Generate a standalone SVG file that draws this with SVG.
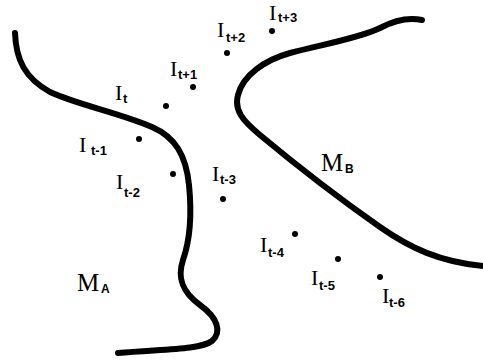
<svg xmlns="http://www.w3.org/2000/svg" width="483" height="362" viewBox="0 0 483 362">
<style>
.c{fill:none;stroke:#000;stroke-width:6;stroke-linecap:round;stroke-linejoin:round}
.d{fill:#000}
.i{font-family:"Liberation Serif","Times New Roman",serif;font-size:22px;fill:#000}
.m{font-family:"Liberation Serif","Times New Roman",serif;font-size:25px;fill:#000}
.s{font-family:"Liberation Sans",Arial,sans-serif;font-weight:bold;font-size:13px;fill:#000}
.sm{font-family:"Liberation Sans",Arial,sans-serif;font-weight:bold;font-size:12px;fill:#000}
</style>
<rect width="483" height="362" fill="#fff"/>
<g id="curves">
<path id="curveA" class="c" d="M15,33 C16,60 25,78 50,92 C75,104 120,113 152,127 C175,137 186,155 189,185 C192,215 190,240 183,260 C177,278 182,292 200,305 C218,318 222,332 212,341 C200,350 160,349 118,353"/>
<path id="curveB" class="c" d="M422,20 C408,17 395,20 380,28 C360,38 320,45 290,53 C265,60 243,75 238,95 C234,110 242,120 260,135 C290,160 330,192 380,227 C410,248 440,262 483,266"/>
</g>
<g id="points">
<circle class="d" cx="166" cy="106" r="3"/>
<circle class="d" cx="193" cy="87" r="3"/>
<circle class="d" cx="227" cy="53" r="3"/>
<circle class="d" cx="272" cy="31" r="3"/>
<circle class="d" cx="139" cy="139" r="3"/>
<circle class="d" cx="173" cy="174" r="3"/>
<circle class="d" cx="223" cy="199" r="3"/>
<circle class="d" cx="295" cy="234" r="3"/>
<circle class="d" cx="338" cy="259" r="3"/>
<circle class="d" cx="380" cy="277" r="3"/>
</g>
<g id="labels">
<text><tspan class="i" x="115" y="100">I</tspan><tspan class="s" x="123" y="103">t</tspan></text>
<text><tspan class="i" x="170" y="76">I</tspan><tspan class="s" x="178" y="79">t+1</tspan></text>
<text><tspan class="i" x="217" y="37">I</tspan><tspan class="s" x="226" y="42">t+2</tspan></text>
<text><tspan class="i" x="269" y="20">I</tspan><tspan class="s" x="278" y="22">t+3</tspan></text>
<text><tspan class="i" x="79" y="152">I</tspan><tspan class="s" x="91" y="155">t-1</tspan></text>
<text><tspan class="i" x="116" y="189">I</tspan><tspan class="s" x="124" y="197">t-2</tspan></text>
<text><tspan class="i" x="212" y="181">I</tspan><tspan class="s" x="220" y="184">t-3</tspan></text>
<text><tspan class="i" x="260" y="252">I</tspan><tspan class="s" x="268" y="257">t-4</tspan></text>
<text><tspan class="i" x="311" y="285">I</tspan><tspan class="s" x="319" y="290">t-5</tspan></text>
<text><tspan class="i" x="382" y="303">I</tspan><tspan class="s" x="389" y="307">t-6</tspan></text>
<text><tspan class="m" x="77" y="291">M</tspan><tspan class="sm" x="101" y="293">A</tspan></text>
<text><tspan class="m" x="321" y="171">M</tspan><tspan class="sm" x="345" y="173">B</tspan></text>
</g>
</svg>
